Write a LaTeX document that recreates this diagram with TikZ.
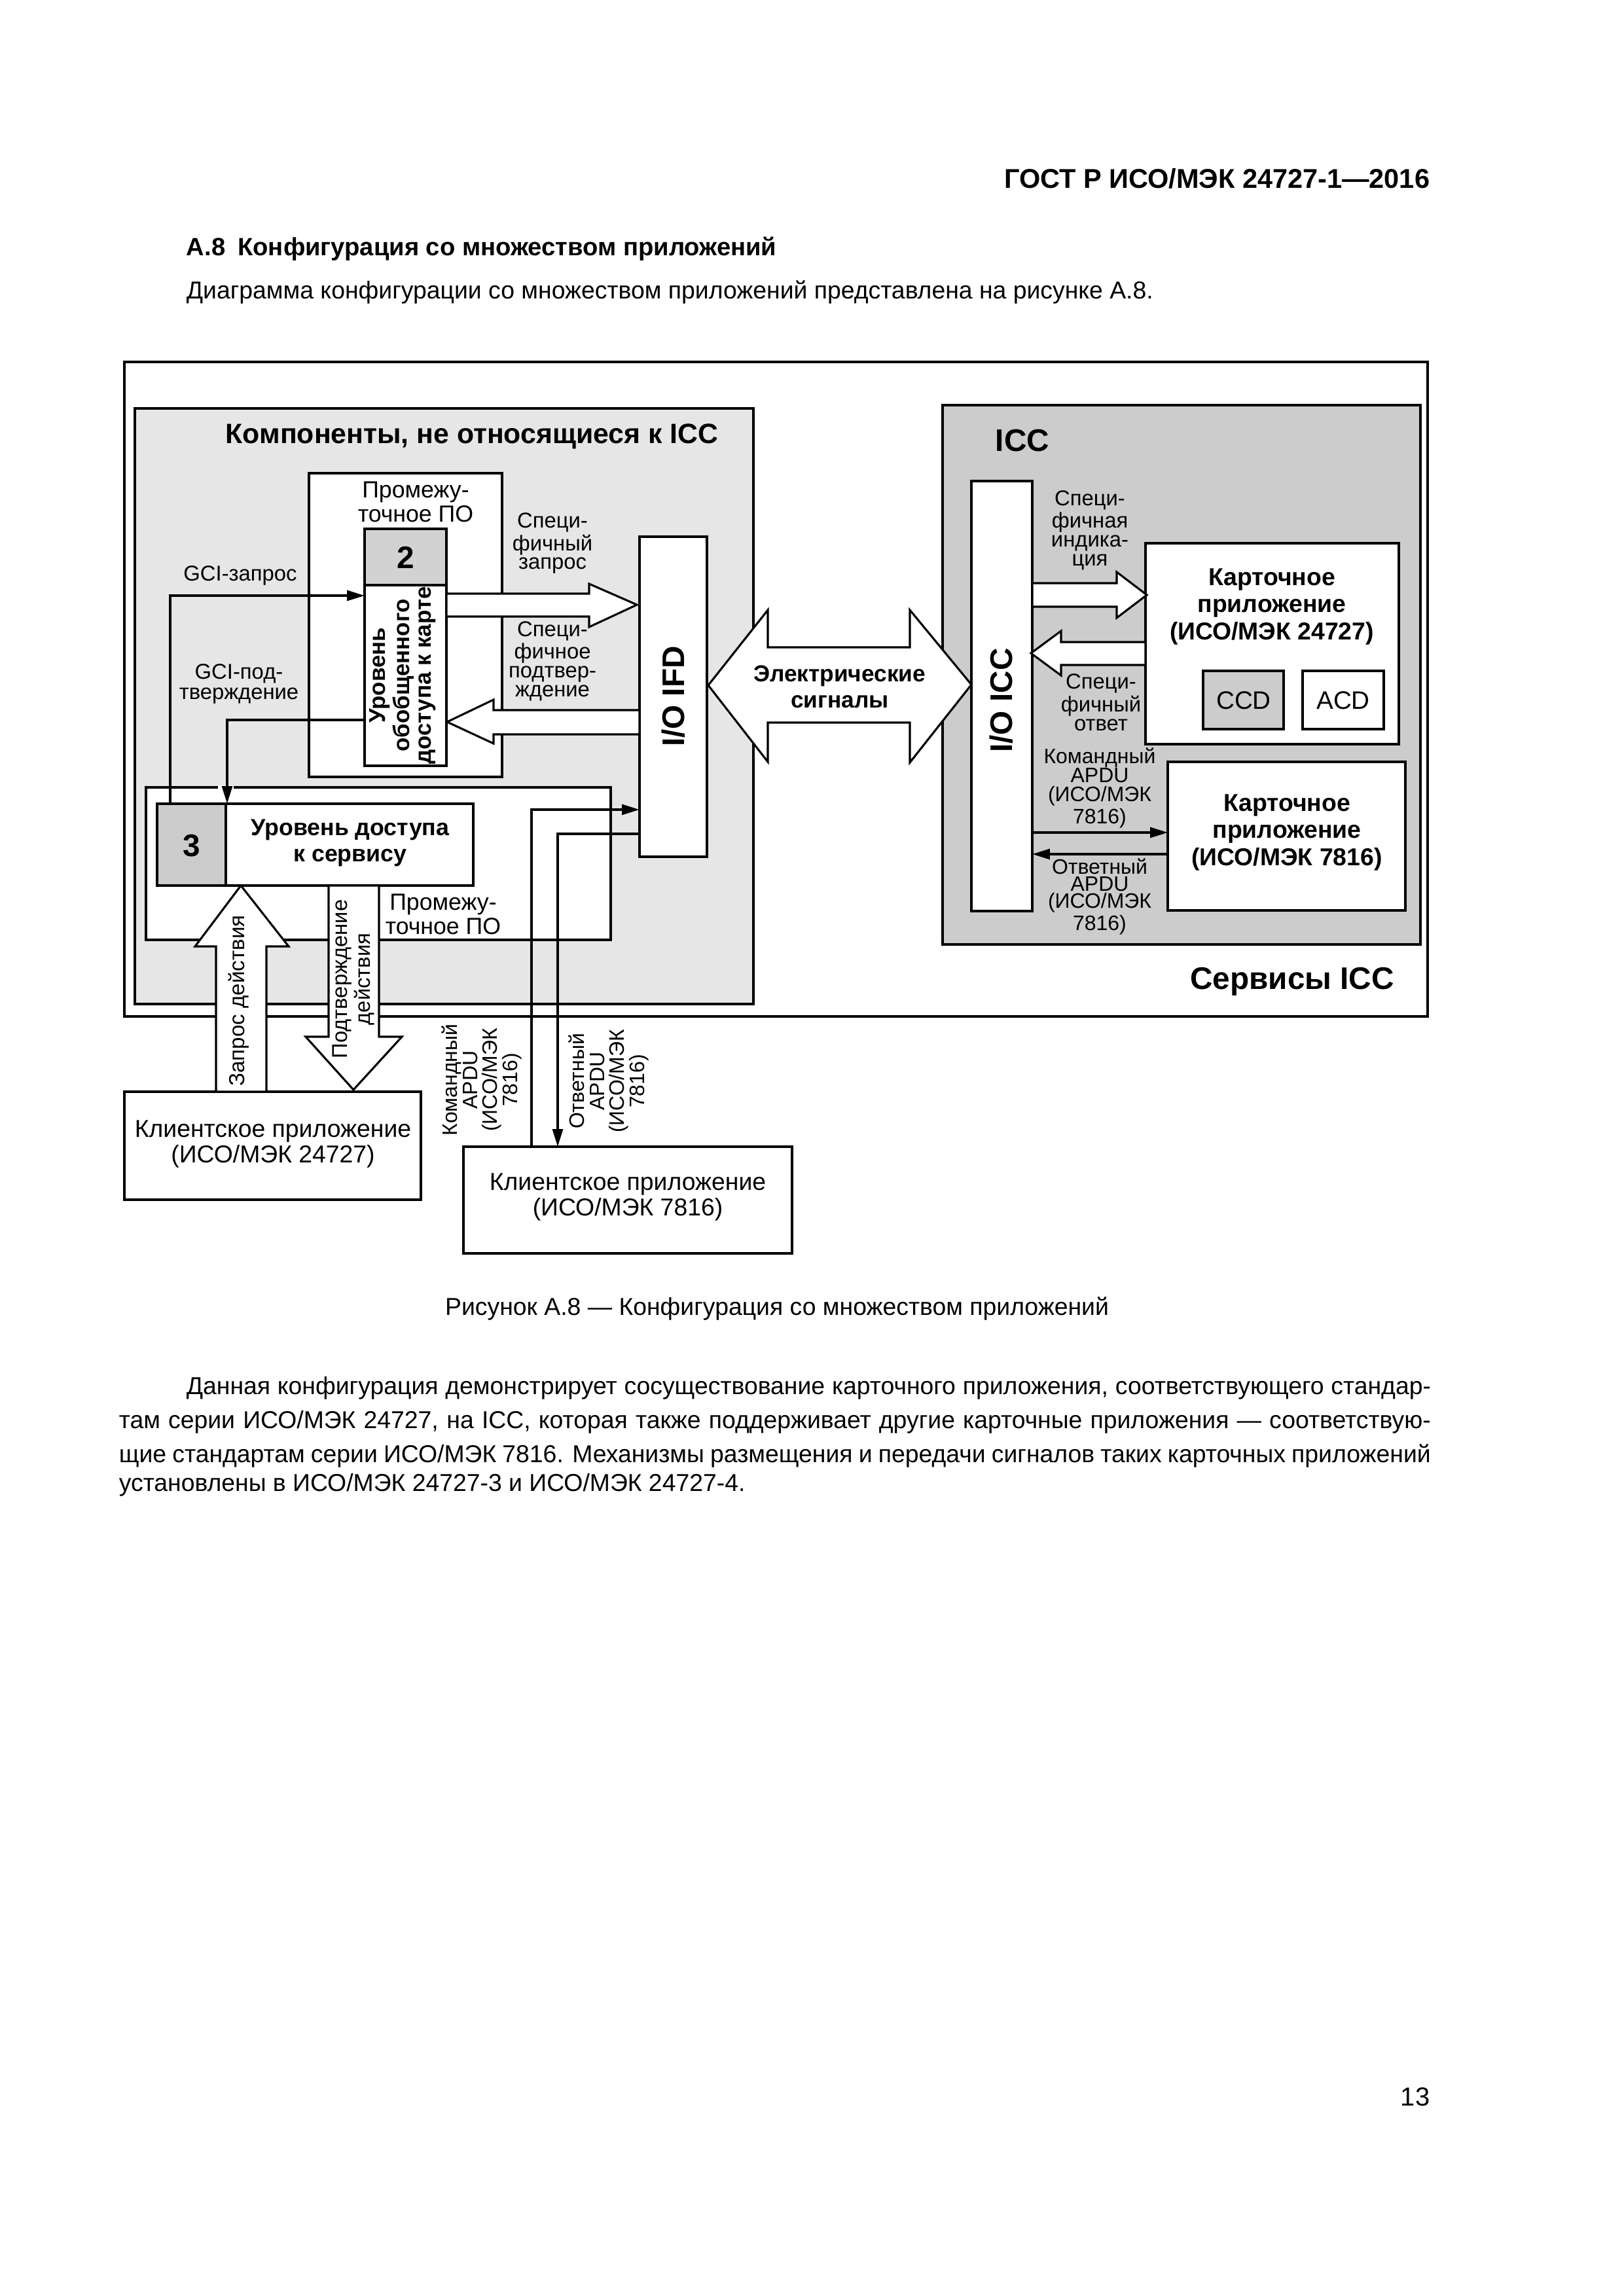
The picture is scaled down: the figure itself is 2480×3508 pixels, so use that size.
\documentclass[tikz,border=0pt]{standalone}
\usepackage{fontspec}
\setmainfont{Liberation Sans}
\usetikzlibrary{arrows.meta,fit}
\newcommand\myfs[2]{\fontsize{#1pt}{#2pt}\selectfont}
\definecolor{lgray}{HTML}{E6E6E6}
\definecolor{mgray}{HTML}{CCCCCC}
\definecolor{hgray}{HTML}{D2D2D2}
\begin{document}
\begin{tikzpicture}[x=0.0084677cm,y=-0.0084677cm,
  box/.style={draw,line width=0.85pt,fill=white,inner sep=0pt,outer sep=0pt},
  frame/.style={draw,line width=1.1pt,inner sep=0pt,outer sep=0pt},
  arr/.style={line width=0.85pt,-{Triangle[length=6.5pt,width=3.8pt]}},
  hollow/.style={draw,line width=0.75pt,fill=white,line join=miter},
  txt/.style={inner sep=0pt,align=center},
  sml/.style={txt,font=\myfs{7.9}{6.9}},
  mid/.style={txt,font=\myfs{8.6}{7.5}},
  cli/.style={txt,font=\myfs{9}{9.4}},
  bld/.style={txt,font=\myfs{9}{9.9}\bfseries},
  big/.style={txt,font=\myfs{11.5}{12}\bfseries},
  body/.style={inner sep=0pt,font=\myfs{9}{11}}
]
\useasboundingbox[fill=white] (0,0) rectangle (2480,3508);

% ---------- page text ----------
\node[inner sep=0pt,anchor=east,font=\myfs{10}{12}\bfseries] (hdr) at (2185,273) {ГОСТ Р ИСО/МЭК 24727-1—2016};
\node[inner sep=0pt,anchor=west,font=\myfs{9.2}{12}\bfseries] (sec) at (284,380) {А.8\enspace Конфигурация со множеством приложений};
\node[body,anchor=west] (intro) at (284,447) {Диаграмма конфигурации со множеством приложений представлена на рисунке А.8.};

% ---------- boxes ----------
\node[frame,fit={(190,553) (2181,1553)}] (frm) {};
\node[frame,line width=0.85pt,fill=lgray,fit={(206,624) (1151,1534)}] (nonicc) {};
\node[box,fit={(472,723) (767,1187)}] (mw1) {};
\node[box,fill=hgray,fit={(557,808) (682,894)}] (b2) {};
\node[box,fit={(557,894) (682,1170)}] (gacc) {};
\node[box,fit={(977,820) (1080,1309)}] (ifd) {};
\node[box,fit={(223,1203) (933,1436)}] (svc) {};
\node[box,fill=mgray,fit={(240,1228) (345,1353)}] (b3) {};
\node[box,fit={(345,1228) (723,1353)}] (sacc) {};
\node[frame,line width=0.85pt,fill=mgray,fit={(1440,619) (2170,1443)}] (icc) {};
\node[box,fit={(1484,735) (1577,1392)}] (ioicc) {};
\node[box,fit={(1750,830) (2137,1137)}] (ca24) {};
\node[box,fill=mgray,fit={(1838,1025) (1961,1114)}] (ccd) {};
\node[box,fit={(1990,1025) (2114,1114)}] (acd) {};
\node[box,fit={(1784,1164) (2147,1391)}] (ca78) {};
\node[box,fit={(190,1668) (643,1833)}] (cl24) {};
\node[box,fit={(708,1752) (1210,1915)}] (cl78) {};

% ---------- thin connectors ----------
\coordinate (gq1) at (260,1228);
\coordinate (gq2) at (557,910);
\draw[arr] (gq1) |- (gq2);
\draw[white,line width=1.5pt] (333,1203) -- (357,1203);
\coordinate (gc1) at (557,1100);
\coordinate (gc2) at (347,1228);
\draw[arr] (gc1) -| (gc2);
\coordinate (cm1) at (812,1752);
\coordinate (cm2) at (977,1237);
\draw[arr] (cm1) |- (cm2);
\coordinate (rs1) at (977,1274);
\coordinate (rs2) at (852,1752);
\draw[arr] (rs1) -| (rs2);
\coordinate (ic1) at (1577,1272);
\coordinate (ic2) at (1784,1272);
\draw[arr] (ic1) -- (ic2);
\coordinate (ir1) at (1784,1305);
\coordinate (ir2) at (1577,1305);
\draw[arr] (ir1) -- (ir2);

% ---------- hollow arrows ----------
\draw[hollow] (682,907) -- (900,907) -- (900,892) -- (973,924) -- (900,958) -- (900,942) -- (682,942) -- cycle;
\draw[hollow] (977,1085) -- (754,1085) -- (754,1069) -- (683,1103) -- (754,1136) -- (754,1122) -- (977,1122) -- cycle;
\draw[hollow] (1082,1047) -- (1173,932) -- (1173,989) -- (1390,989) -- (1390,932) -- (1484,1046) -- (1390,1165) -- (1390,1104) -- (1173,1104) -- (1173,1164) -- cycle;
\draw[hollow] (1577,891) -- (1706,891) -- (1706,874) -- (1752,909) -- (1706,944) -- (1706,927) -- (1577,927) -- cycle;
\draw[hollow] (1750,981) -- (1621,981) -- (1621,964) -- (1575,998) -- (1621,1032) -- (1621,1016) -- (1750,1016) -- cycle;
\draw[hollow] (330,1668) -- (330,1446) -- (298,1446) -- (368,1353) -- (441,1446) -- (407,1446) -- (407,1668) -- cycle;
\draw[hollow] (502,1353) -- (502,1584) -- (467,1584) -- (540,1665) -- (614,1584) -- (579,1584) -- (579,1353) -- cycle;

% ---------- texts in the diagram ----------
\node[txt,font=\myfs{10.3}{12}\bfseries] (tnon) at (721,667) {Компоненты, не относящиеся к ICC};
\node[mid] (tmw1) at (635,767) {Промежу-\\точное ПО};
\node[big] (t2) at (620,852) {2};
\node[txt,rotate=90,font=\myfs{8.4}{7.8}\bfseries] (tgacc) at (615,1032) {Уровень\\обобщенного\\доступа к карте};
\node[sml] (tgq) at (367,879) {GCI-запрос};
\node[sml,font=\myfs{7.9}{7.5}] (tgc) at (365,1045) {GCI-под-\\тверждение};
\node[sml] (tsq) at (844,830) {Специ-\\фичный\\запрос};
\node[sml] (tsc) at (844,1010) {Специ-\\фичное\\подтвер-\\ждение};
\node[big,rotate=90] (tifd) at (1029,1064) {I/O IFD};
\node[txt,font=\myfs{8.5}{9.6}\bfseries] (tel) at (1283,1049) {Электрические\\сигналы};
\node[big] (ticc) at (1562,673) {ICC};
\node[big,rotate=90] (tioicc) at (1530,1070) {I/O ICC};
\node[sml] (tsi) at (1665,810) {Специ-\\фичная\\индика-\\ция};
\node[bld] (tca24) at (1943,927) {Карточное\\приложение\\(ИСО/МЭК 24727)};
\node[txt,font=\myfs{9.3}{10}] (tccd) at (1900,1070) {CCD};
\node[txt,font=\myfs{9.3}{10}] (tacd) at (2052,1070) {ACD};
\node[sml] (tso) at (1682,1073) {Специ-\\фичный\\ответ};
\node[sml,font=\myfs{7.7}{7}] (tcm) at (1680,1204) {Командный\\APDU\\(ИСО/МЭК\\7816)};
\node[sml,font=\myfs{7.7}{6.2}] (trs) at (1680,1370) {Ответный\\APDU\\(ИСО/МЭК\\7816)};
\node[bld,font=\myfs{9}{10.1}\bfseries] (tca78) at (1966,1272) {Карточное\\приложение\\(ИСО/МЭК 7816)};
\node[big] (tsrv) at (1974,1500) {Сервисы ICC};
\node[big] (t3) at (293,1292) {3};
\node[txt,font=\myfs{8.6}{9.6}\bfseries] (tsacc) at (535,1288) {Уровень доступа\\к сервису};
\node[mid] (tmw2) at (677,1397) {Промежу-\\точное ПО};
\node[sml,font=\myfs{8}{7.5},rotate=90] (tzd) at (365,1529) {Запрос действия};
\node[sml,font=\myfs{7.9}{8.6},rotate=90] (tpd) at (540,1496) {Подтверждение\\действия};
\node[cli] (tcl24) at (417,1748) {Клиентское приложение\\(ИСО/МЭК 24727)};
\node[sml,font=\myfs{7.7}{7.4},rotate=90] (tcm2) at (736,1650) {Командный\\APDU\\(ИСО/МЭК\\7816)};
\node[sml,font=\myfs{7.7}{7.4},rotate=90] (trs2) at (930,1652) {Ответный\\APDU\\(ИСО/МЭК\\7816)};
\node[cli] (tcl78) at (959,1829) {Клиентское приложение\\(ИСО/МЭК 7816)};

% ---------- caption and body ----------
\node[body] (cap) at (1187,1999) {Рисунок А.8 — Конфигурация со множеством приложений};
\node[body,anchor=west] (p1) at (284,2121) {\makebox[16.10cm][s]{Данная конфигурация демонстрирует сосуществование карточного приложения, соответствующего стандар-}};
\node[body,anchor=west] (p2) at (181,2173) {\makebox[16.97cm][s]{там серии ИСО/МЭК 24727, на ICC, которая также поддерживает другие карточные приложения — соответствую-}};
\node[body,anchor=west] (p3) at (181,2224) {\makebox[16.97cm][s]{щие стандартам серии ИСО/МЭК 7816. Механизмы размещения и передачи сигналов таких карточных приложений}};
\node[body,anchor=west] (p4) at (181,2269) {установлены в ИСО/МЭК 24727-3 и ИСО/МЭК 24727-4.};
\node[body,anchor=east,font=\myfs{9.6}{11}] (pg) at (2185,3204) {13};
\end{tikzpicture}
\end{document}
